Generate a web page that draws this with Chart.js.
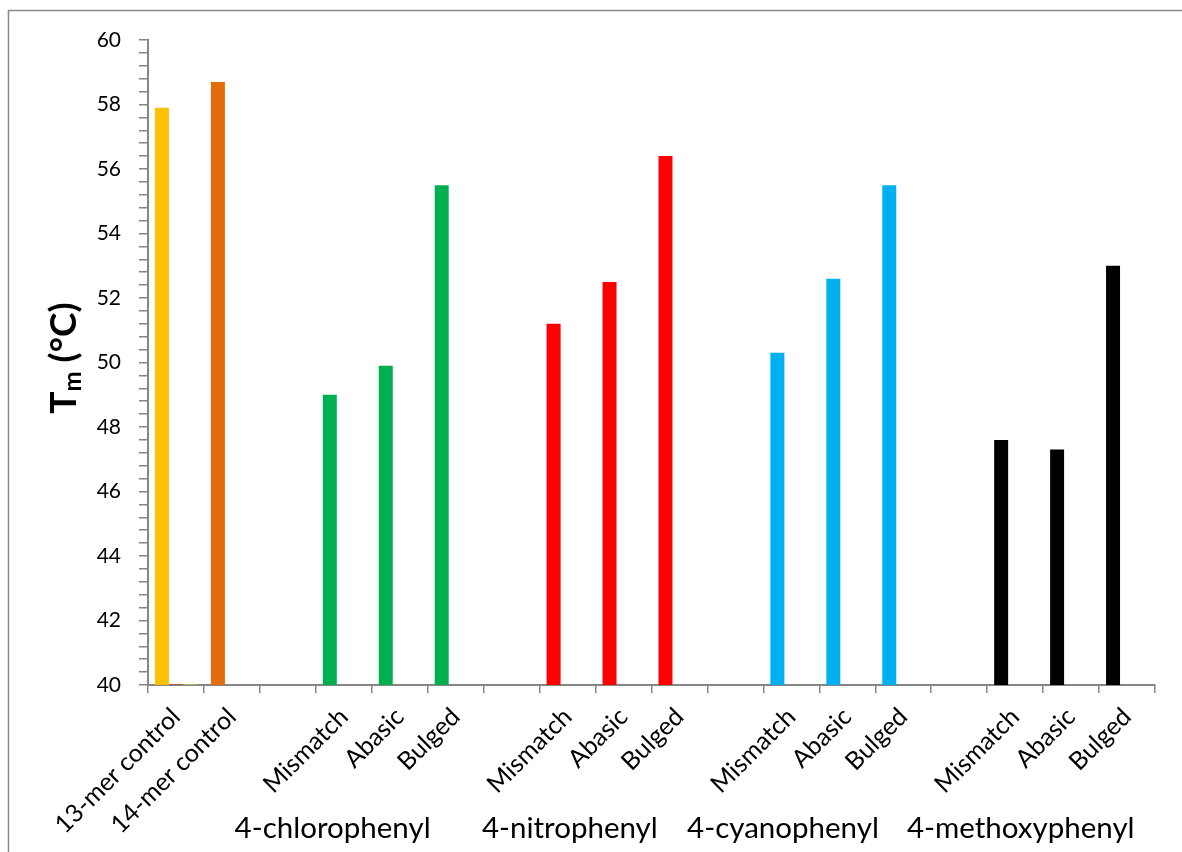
<!DOCTYPE html>
<html lang="en">
<head>
  <meta charset="UTF-8">
  <title>Tm</title>
  <script src="https://cdn.jsdelivr.net/npm/chart.js@4.4.1/dist/chart.umd.min.js"></script>
  <style>
    html, body { margin: 0; padding: 0; background: #fff; }
    #wrap { width: 1182px; height: 852px; }
  </style>
</head>
<body>
  <div id="wrap"><canvas id="grafico" width="1182" height="852"></canvas></div>
<script>
// categories along the x axis (blank slots separate the groups)
const categorias = ["13-mer control", "14-mer control", "",
  "Mismatch", "Abasic", "Bulged", "",
  "Mismatch", "Abasic", "Bulged", "",
  "Mismatch", "Abasic", "Bulged", "",
  "Mismatch", "Abasic", "Bulged"];

// melting temperatures (°C)
const valoresTm = [57.9, 58.7, null,
  49.0, 49.9, 55.5, null,
  51.2, 52.5, 56.4, null,
  50.3, 52.6, 55.5, null,
  47.6, 47.3, 53.0];

const coresBarras = ["#FFC000", "#E46C0A", "#000",
  "#00B050", "#00B050", "#00B050", "#000",
  "#FF0000", "#FF0000", "#FF0000", "#000",
  "#00B0F0", "#00B0F0", "#00B0F0", "#000",
  "#000000", "#000000", "#000000"];

// two leftover series that only show up as slivers at the 13-mer slot
const serie2 = [40.03, null, null, null, null, null, null, null, null, null, null, null, null, null, null, null, null, null];
const serie3 = [40.03, null, null, null, null, null, null, null, null, null, null, null, null, null, null, null, null, null];

const grupos = ["4-chlorophenyl", "4-nitrophenyl", "4-cyanophenyl", "4-methoxyphenyl"];

// where the group names sit, in category widths from the y axis
const posGrupos = [3.3, 7.54, 11.35, 15.6];

const corEixo = "#868686";
const fonte = "Lato";

const moldura = {
  id: "moldura",
  beforeDraw(chart) {
    const ctx = chart.ctx;
    ctx.save();
    ctx.fillStyle = "#fff";
    ctx.fillRect(0, 0, chart.width, chart.height);
    ctx.strokeStyle = "#898989";
    ctx.lineWidth = 1.5;
    ctx.strokeRect(8.5, 10.5, 1400, 1000);
    ctx.restore();
  }
};

const tituloEixoY = {
  id: "tituloEixoY",
  afterDraw(chart) {
    const ctx = chart.ctx;
    ctx.save();
    ctx.translate(76, 358);
    ctx.rotate(-Math.PI / 2);
    ctx.fillStyle = "#000";
    ctx.textBaseline = "alphabetic";
    ctx.textAlign = "left";
    const grande = "bold 37px " + fonte;
    const pequena = "bold 24px " + fonte;
    ctx.font = grande;
    const wT = ctx.measureText("T").width;
    const wR = ctx.measureText(" (°C)").width;
    ctx.font = pequena;
    const wM = ctx.measureText("m").width;
    let x = -(wT + wM + wR) / 2;
    ctx.font = grande;
    ctx.fillText("T", x, 0);
    x += wT;
    ctx.font = pequena;
    ctx.fillText("m", x, 5);
    x += wM;
    ctx.font = grande;
    ctx.fillText(" (°C)", x, 0);
    ctx.restore();
  }
};

const nomesGrupos = {
  id: "nomesGrupos",
  afterDraw(chart) {
    const ctx = chart.ctx;
    const sx = chart.scales.x;
    const passo = (sx.right - sx.left) / categorias.length;
    ctx.save();
    ctx.font = "29.5px " + fonte;
    ctx.fillStyle = "#000";
    ctx.textAlign = "center";
    ctx.textBaseline = "alphabetic";
    grupos.forEach((g, i) => {
      ctx.fillText(g, sx.left + posGrupos[i] * passo, 838);
    });
    ctx.restore();
  }
};

new Chart(document.getElementById("grafico"), {
  type: "bar",
  data: {
    labels: categorias,
    datasets: [
      {
        label: "Tm",
        data: valoresTm,
        backgroundColor: coresBarras,
        borderWidth: 0,
        categoryPercentage: 0.75,
        barPercentage: 1
      },
      {
        label: "serie 2",
        data: serie2,
        backgroundColor: "#C0504D",
        borderWidth: 0,
        categoryPercentage: 0.75,
        barPercentage: 1
      },
      {
        label: "serie 3",
        data: serie3,
        backgroundColor: "#9BBB59",
        borderWidth: 0,
        categoryPercentage: 0.75,
        barPercentage: 1
      }
    ]
  },
  options: {
    responsive: false,
    animation: false,
    devicePixelRatio: 1,
    layout: { padding: { top: 40, right: 27, left: 0, bottom: 0 } },
    plugins: {
      legend: { display: false },
      tooltip: { enabled: false }
    },
    scales: {
      x: {
        grid: { drawOnChartArea: false, tickLength: 8, color: corEixo, lineWidth: 1.5, offset: true },
        border: { color: corEixo, width: 2 },
        ticks: {
          autoSkip: false,
          minRotation: 45,
          maxRotation: 45,
          padding: 9,
          color: "#000",
          font: { family: fonte, size: 25 }
        },
        afterFit(s) { s.height = 167; }
      },
      y: {
        min: 40,
        max: 60,
        grid: { drawOnChartArea: false, tickLength: 9, color: corEixo, lineWidth: 1.5 },
        border: { color: corEixo, width: 2 },
        ticks: {
          stepSize: 0.4,
          autoSkip: false,
          padding: 18,
          color: "#000",
          font: { family: fonte, size: 21 },
          callback: function (v) {
            return Math.abs(v / 2 - Math.round(v / 2)) < 1e-6 ? Math.round(v) : "";
          }
        },
        afterFit(s) { s.width = 148; }
      }
    }
  },
  plugins: [moldura, tituloEixoY, nomesGrupos]
});
</script>
</body>
</html>
